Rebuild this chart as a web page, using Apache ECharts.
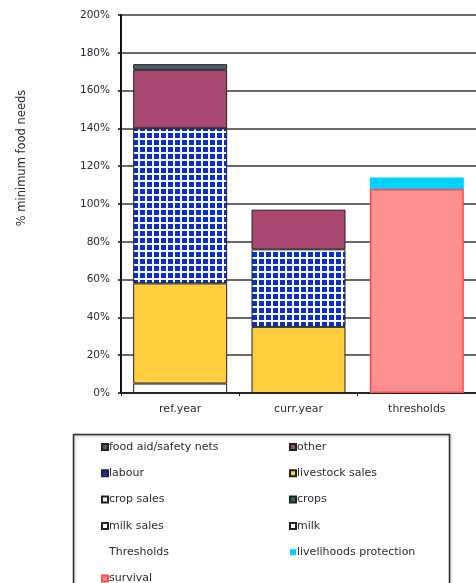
<!DOCTYPE html>
<html>
<head>
<meta charset="utf-8">
<style>
html,body{margin:0;padding:0;background:#fff;}
#chart{width:476px;height:583px;}
</style>
<script src="https://cdn.jsdelivr.net/npm/echarts@6/dist/echarts.min.js"></script>
</head>
<body>
<div id="chart"></div>
<script>
// ---- data ----
var categories = ['ref.year', 'curr.year', 'thresholds'];
var yTicks = [0, 20, 40, 60, 80, 100, 120, 140, 160, 180, 200];
var milk = [5, null, null];
var milkSales = [null, null, null];
var crops = [null, null, null];
var cropSales = [null, null, null];
var livestockSales = [53, 35, null];
var labour = [82, 41, null];
var other = [31, 21, null];
var foodAid = [3, null, null];
var survival = [null, null, 108];
var livelihoodsProtection = [null, null, 6];
var thresholdsDummy = [null, null, null];

// labour check pattern
var pc = document.createElement('canvas');
pc.width = 7; pc.height = 7;
var pctx = pc.getContext('2d');
pctx.fillStyle = '#ffffff';
pctx.fillRect(0, 0, 7, 7);
pctx.fillStyle = '#0a2fd0';
pctx.fillRect(0, 0, 5, 5);

var FONT = '"DejaVu Sans", Verdana, sans-serif';
var TXT = '#2a2a3a';
var border = {borderColor: '#222', borderWidth: 1};

function bar(name, data, color, extra) {
  return {
    name: name, type: 'bar', stack: 'total', data: data,
    barWidth: 94,
    itemStyle: Object.assign({color: color}, border, extra || {})
  };
}

var chart = echarts.init(document.getElementById('chart'), null, {renderer: 'canvas'});
var legendText = {fontFamily: FONT, fontSize: 11, color: TXT, lineHeight: 12, padding: [0, 0, 0, -4]};
function legend(left, top, names) {
  return {
    left: left, top: top, height: 200, padding: 0, orient: 'vertical', itemWidth: 6, itemHeight: 6, itemGap: 14.3,
    icon: 'rect', textStyle: legendText, data: names
  };
}
chart.setOption({
  animation: false,
  backgroundColor: '#fff',
  grid: {left: 121, top: 15, width: 360, bottom: 190, containLabel: false},
  xAxis: {
    type: 'category', data: categories,
    axisLine: {lineStyle: {color: '#111', width: 1.5}},
    axisTick: {show: true, length: 3, lineStyle: {color: '#111'}},
    axisLabel: {fontFamily: FONT, fontSize: 11, color: TXT, margin: 11}
  },
  yAxis: {
    type: 'value', min: yTicks[0], max: yTicks[yTicks.length - 1], interval: 20,
    name: '% minimum food needs', nameLocation: 'middle', nameRotate: 90, nameGap: 93,
    nameTextStyle: {fontFamily: FONT, fontSize: 11.5, color: TXT, padding: [0, 0, 0, 92]},
    axisLine: {show: true, lineStyle: {color: '#111', width: 2}},
    axisTick: {show: true, length: 3, lineStyle: {color: '#111', width: 1.5}},
    axisLabel: {fontFamily: FONT, fontSize: 10.5, color: TXT, margin: 11, formatter: '{value}%'},
    splitLine: {lineStyle: {color: '#6a6a6a', width: 2}}
  },
  legend: [
    legend(101, 441, ['food aid/safety nets', 'labour', 'crop sales', 'milk sales',
             {name: 'Thresholds', itemStyle: {opacity: 0}}, 'survival']),
    legend(289, 441, ['other', 'livestock sales', 'crops', 'milk', 'livelihoods protection'])
  ],
  graphic: [{
    type: 'rect', left: 71, top: 432,
    shape: {width: 376, height: 200},
    style: {fill: 'none', stroke: '#333', lineWidth: 1.5, shadowBlur: 2, shadowColor: 'rgba(0,0,0,0.3)', shadowOffsetX: 1, shadowOffsetY: 1},
    silent: true
  }],
  series: [
    bar('milk', milk, '#ffffff'),
    bar('milk sales', milkSales, '#ffffff'),
    bar('crops', crops, '#1f6f4f'),
    bar('crop sales', cropSales, '#f2f2f2'),
    bar('livestock sales', livestockSales, '#ffcf40'),
    bar('labour', labour, {image: pc, repeat: 'repeat'}),
    bar('other', other, '#a8476f'),
    bar('food aid/safety nets', foodAid, '#4b5f70'),
    bar('Thresholds', thresholdsDummy, '#ffffff'),
    bar('survival', survival, '#ff8f8f', {borderColor: '#ff4a4a', borderWidth: 1.5}),
    bar('livelihoods protection', livelihoodsProtection, '#00d2ff', {borderWidth: 0})
  ]
});
</script>
</body>
</html>
